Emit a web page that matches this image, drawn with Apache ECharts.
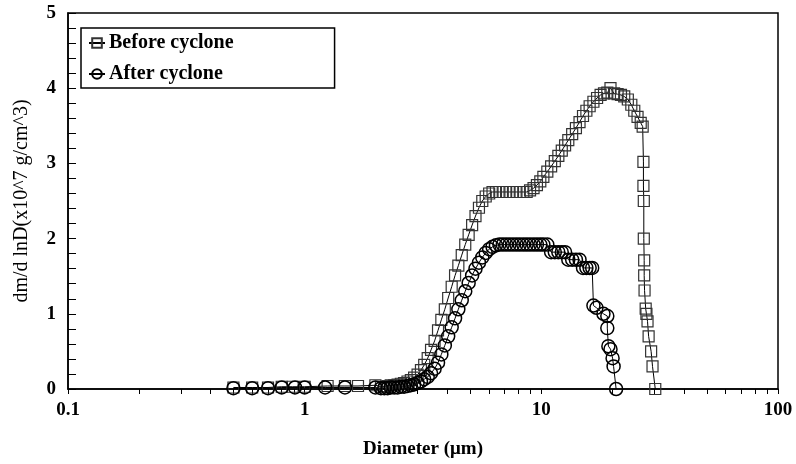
<!DOCTYPE html>
<html>
<head>
<meta charset="utf-8">
<script src="https://cdn.jsdelivr.net/npm/echarts@6/dist/echarts.min.js"></script>
<style>
  html, body { margin: 0; padding: 0; background: #fff; }
  #chart { width: 796px; height: 464px; }
</style>
</head>
<body>
<div id="chart"></div>
<script>
  // diameters (um) and dm/dlnD values
  const beforeDiameter = [
    0.50, 0.60, 0.70, 0.80, 0.89, 1.00, 1.25, 1.48, 1.68, 1.99,
    2.10, 2.17, 2.24, 2.31, 2.39, 2.47, 2.55, 2.63, 2.72, 2.81,
    2.90, 3.00, 3.10, 3.20, 3.31, 3.42, 3.54, 3.66, 3.78, 3.91,
    4.04, 4.18, 4.32, 4.46, 4.61, 4.77, 4.93, 5.10, 5.27, 5.45,
    5.63, 5.82, 6.02, 6.22, 6.43, 6.65, 6.87, 7.10, 7.34, 7.59,
    7.85, 8.11, 8.39, 8.67, 8.96, 9.27, 9.58, 9.90, 10.2, 10.6,
    11.0, 11.4, 11.8, 12.2, 12.6, 13.0, 13.5, 14.0, 14.5, 15.0,
    15.5, 16.0, 16.6, 17.2, 17.8, 18.4, 19.0, 19.6, 20.3, 21.0,
    21.7, 22.4, 23.2, 24.0, 24.7, 25.5, 26.3, 26.8,
    27.0, 27.0, 27.1, 27.1, 27.2, 27.2, 27.3, 27.6, 27.8, 28.1,
    28.4, 29.1, 29.5, 30.3
  ];
  const beforeValue = [
    0.02, 0.02, 0.02, 0.03, 0.03, 0.03, 0.04, 0.04, 0.04, 0.05,
    0.03, 0.03, 0.04, 0.05, 0.05, 0.06, 0.07, 0.08, 0.10, 0.12,
    0.15, 0.19, 0.25, 0.32, 0.41, 0.52, 0.64, 0.78, 0.92, 1.06,
    1.21, 1.36, 1.51, 1.64, 1.78, 1.92, 2.05, 2.18, 2.30, 2.41,
    2.50, 2.56, 2.60, 2.62, 2.62, 2.62, 2.62, 2.62, 2.62, 2.62,
    2.62, 2.62, 2.62, 2.62, 2.64, 2.67, 2.71, 2.76, 2.82, 2.89,
    2.96, 3.03, 3.10, 3.17, 3.24, 3.31, 3.39, 3.47, 3.55, 3.63,
    3.70, 3.76, 3.82, 3.87, 3.91, 3.93, 3.94, 4.00, 3.93, 3.92,
    3.91, 3.89, 3.85, 3.78, 3.70, 3.62, 3.54, 3.49,
    3.02, 2.70, 2.50, 2.00, 1.71, 1.51, 1.31, 1.07, 1.00, 0.90,
    0.70, 0.50, 0.30, 0.00
  ];

  const afterDiameter = [
    0.50, 0.60, 0.70, 0.80, 0.91, 1.00, 1.22, 1.48, 1.99,
    2.10, 2.17, 2.24, 2.31, 2.39, 2.47, 2.55, 2.63, 2.72, 2.81,
    2.90, 3.00, 3.10, 3.20, 3.31, 3.42, 3.54, 3.66, 3.78, 3.91,
    4.04, 4.18, 4.32, 4.46, 4.61, 4.77, 4.93, 5.10, 5.27, 5.45,
    5.63, 5.82, 6.02, 6.22, 6.43, 6.65, 6.87, 7.10, 7.34, 7.59,
    7.85, 8.11, 8.39, 8.67, 8.96, 9.27, 9.58, 9.90, 10.2, 10.6,
    11.0, 11.4, 11.8, 12.2, 12.6, 13.0, 13.5, 14.0, 14.5,
    15.0, 15.5, 16.0, 16.4,
    16.6, 17.1, 18.3, 19.0, 19.0, 19.2, 19.6, 20.0, 20.2, 20.7
  ];
  const afterValue = [
    0.01, 0.01, 0.01, 0.02, 0.02, 0.02, 0.02, 0.02, 0.02,
    0.01, 0.01, 0.01, 0.02, 0.02, 0.02, 0.03, 0.03, 0.04, 0.05,
    0.06, 0.08, 0.10, 0.13, 0.16, 0.21, 0.27, 0.35, 0.46, 0.58,
    0.70, 0.82, 0.94, 1.06, 1.18, 1.30, 1.41, 1.51, 1.60, 1.68,
    1.75, 1.81, 1.86, 1.89, 1.91, 1.92, 1.92, 1.92, 1.92, 1.92,
    1.92, 1.92, 1.92, 1.92, 1.92, 1.92, 1.92, 1.92, 1.92, 1.92,
    1.82, 1.82, 1.82, 1.82, 1.82, 1.72, 1.72, 1.72, 1.72,
    1.61, 1.61, 1.61, 1.61,
    1.11, 1.08, 1.00, 0.97, 0.81, 0.57, 0.53, 0.41, 0.30, 0.00
  ];

  const xTickValues = [
    0.1, 0.2, 0.3, 0.4, 0.5, 0.6, 0.7, 0.8, 0.9,
    1, 2, 3, 4, 5, 6, 7, 8, 9,
    10, 20, 30, 40, 50, 60, 70, 80, 90, 100
  ];
  const xLabelValues = [0.1, 1, 10, 100];
  const xLabelText = ['0.1', '1', '10', '100'];

  const chart = echarts.init(document.getElementById('chart'));
  const serif = 'Liberation Serif';

  function pairs(xs, ys) {
    return xs.map((x, i) => [x, ys[i]]);
  }

  const option = {
    animation: false,
    grid: {
      left: 68,
      right: 18,
      top: 13,
      bottom: 73,
      show: true,
      borderColor: '#000',
      borderWidth: 1.5,
      backgroundColor: '#fff'
    },
    legend: {
      orient: 'vertical',
      left: 81,
      top: 28,
      padding: [5, 101, 4, 7],
      itemGap: 11,
      itemWidth: 16,
      itemHeight: 12,
      borderColor: '#000',
      borderWidth: 1.5,
      backgroundColor: '#fff',
      textStyle: { fontFamily: serif, fontSize: 20, fontWeight: 'bold', color: '#000', padding: [0, 0, 0, -1] },
      data: ['Before cyclone', 'After cyclone']
    },
    xAxis: {
      type: 'log',
      logBase: 10,
      min: 0.1,
      max: 100,
      name: 'Diameter (\u03bcm)',
      nameLocation: 'middle',
      nameGap: 51,
      nameTextStyle: { fontFamily: serif, fontSize: 19, fontWeight: 'bold', color: '#000' },
      axisLine: { lineStyle: { color: '#000', width: 1.5 } },
      axisTick: { show: true, inside: false, length: 5, customValues: xTickValues, lineStyle: { color: '#000', width: 1 } },
      axisLabel: {
        customValues: xLabelValues,
        margin: 12,
        fontFamily: serif, fontSize: 19, fontWeight: 'bold', color: '#000',
        formatter: v => xLabelText[xLabelValues.findIndex(t => Math.abs(t - v) < 1e-6 * t)] || ''
      },
      splitLine: { show: false },
      minorTick: { show: false }
    },
    yAxis: {
      type: 'value',
      min: 0,
      max: 5,
      interval: 1,
      name: 'dm/d lnD(x10^7 g/cm^3)',
      nameLocation: 'middle',
      nameGap: 36,
      nameTextStyle: { fontFamily: serif, fontSize: 20, color: '#000' },
      axisLine: { show: true, lineStyle: { color: '#000', width: 1.5 } },
      axisTick: { show: true, inside: true, length: 8, lineStyle: { color: '#000', width: 1 } },
      minorTick: { show: true, splitNumber: 5, length: 8, lineStyle: { color: '#000', width: 1 } },
      axisLabel: { margin: 12, fontFamily: serif, fontSize: 19, fontWeight: 'bold', color: '#000' },
      splitLine: { show: false }
    },
    series: [
      {
        name: 'Before cyclone',
        type: 'line',
        data: pairs(beforeDiameter, beforeValue),
        symbol: 'rect',
        symbolSize: 11,
        showAllSymbol: true,
        lineStyle: { color: '#000', width: 1 },
        itemStyle: { color: 'rgba(0,0,0,0)', borderColor: '#333', borderWidth: 1.2 },
        emphasis: { disabled: true }
      },
      {
        name: 'After cyclone',
        type: 'line',
        data: pairs(afterDiameter, afterValue),
        symbol: 'circle',
        symbolSize: 13,
        showAllSymbol: true,
        lineStyle: { color: '#000', width: 1 },
        itemStyle: { color: 'rgba(0,0,0,0)', borderColor: '#000', borderWidth: 1.5 },
        emphasis: { disabled: true }
      }
    ]
  };

  chart.setOption(option);
  window.addEventListener('resize', () => { chart.resize(); });
</script>
</body>
</html>
